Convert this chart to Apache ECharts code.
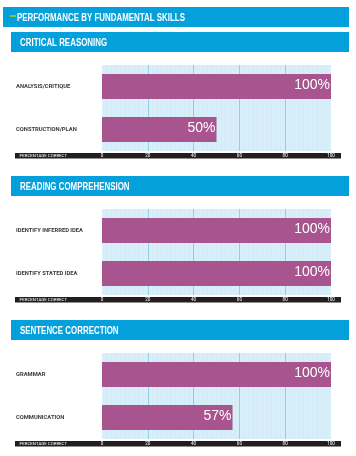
<!DOCTYPE html>
<html>
<head>
<meta charset="utf-8">
<script src="https://cdn.jsdelivr.net/npm/echarts@6/dist/echarts.min.js"></script>
<style>
html,body{margin:0;padding:0;background:#fff;}
#chart{width:356px;height:456px;}
</style>
</head>
<body>
<div id="chart"></div>
<script>
// ---- data ----
const pageTitle = 'PERFORMANCE BY FUNDAMENTAL SKILLS';
const sectionTitles = ['CRITICAL REASONING', 'READING COMPREHENSION', 'SENTENCE CORRECTION'];
const criticalCategories = ['ANALYSIS/CRITIQUE', 'CONSTRUCTION/PLAN'];
const criticalValues = [100, 50];
const readingCategories = ['IDENTIFY INFERRED IDEA', 'IDENTIFY STATED IDEA'];
const readingValues = [100, 100];
const sentenceCategories = ['GRAMMAR', 'COMMUNICATION'];
const sentenceValues = [100, 57];
const xTickValues = [0, 20, 40, 60, 80, 100];
const axisName = 'PERCENTAGE CORRECT';

// ---- layout / style ----
const HEAD_FONT = "'Liberation Sans',Arial,sans-serif";
const LABEL_FONT = "Roboto,'Liberation Sans',sans-serif";
const HEAD_BLUE = '#03a0dc';
const BAR_COLOR = '#a8548f';
const sections = [
  { cats: criticalCategories, vals: criticalValues },
  { cats: readingCategories, vals: readingValues },
  { cats: sentenceCategories, vals: sentenceValues }
];
const STEP = 144;
const PLOT_TOP = 65, PLOT_H = 86, PLOT_LEFT = 102, PLOT_RIGHT = 25;
const SUB_TOP = 32;

const chart = echarts.init(document.getElementById('chart'), null, { renderer: 'canvas' });

const grids = [], xAxes = [], yAxes = [], series = [];
const graphics = [
  { type: 'rect', shape: { x: 3, y: 7, width: 346, height: 20 }, style: { fill: HEAD_BLUE } },
  { type: 'rect', shape: { x: 10, y: 15, width: 6, height: 2 }, style: { fill: '#8cc63f' } },
  { type: 'text', x: 17, y: 17.5, scaleX: 0.72, style: { text: pageTitle, fill: '#fff', font: "bold 11px " + HEAD_FONT, textVerticalAlign: 'middle' } }
];

sections.forEach((s, i) => {
  const off = i * STEP;
  graphics.push({ type: 'rect', shape: { x: 11, y: SUB_TOP + off, width: 338, height: 20 }, style: { fill: HEAD_BLUE } });
  graphics.push({ type: 'text', x: 20, y: SUB_TOP + off + 10.5, scaleX: 0.72, style: { text: sectionTitles[i], fill: '#fff', font: "bold 11px " + HEAD_FONT, textVerticalAlign: 'middle' } });
  graphics.push({ type: 'rect', z: -1, shape: { x: 15, y: PLOT_TOP + off + PLOT_H + 2, width: 326, height: 5.5 }, style: { fill: '#231f20' } });

  grids.push({
    left: PLOT_LEFT, right: PLOT_RIGHT, top: PLOT_TOP + off, height: PLOT_H,
    show: true, backgroundColor: '#d8eff9', borderWidth: 0,
    containLabel: false, outerBoundsMode: 'none'
  });
  xAxes.push({
    type: 'value', gridIndex: i, min: xTickValues[0], max: xTickValues[xTickValues.length - 1],
    interval: xTickValues[1] - xTickValues[0], position: 'bottom', offset: 4.7,
    axisLine: { show: false }, axisTick: { show: false },
    axisLabel: { color: '#fff', fontSize: 4.6, margin: 0, verticalAlign: 'middle', fontFamily: LABEL_FONT },
    splitLine: { show: true, showMinLine: false, showMaxLine: false, lineStyle: { color: '#8ecfea', width: 1 } },
    minorTick: { show: false, splitNumber: 10 },
    minorSplitLine: { show: true, lineStyle: { color: '#cfe8f4', width: 0.6 } },
    name: axisName, nameLocation: 'start', nameGap: 35,
    nameTextStyle: { color: '#fff', fontSize: 4.4, fontFamily: LABEL_FONT, verticalAlign: 'middle' }
  });
  yAxes.push({
    type: 'category', gridIndex: i, inverse: true,
    data: s.cats.map((c, k) => ({ value: c, textStyle: { align: 'left', padding: k === 0 ? [3, 0, 0, 0] : [0, 0, 11, 0] } })),
    axisLine: { show: false }, axisTick: { show: false }, splitLine: { show: false },
    axisLabel: { align: 'left', margin: PLOT_LEFT - 16, color: '#3a3a3a', fontSize: 5.8, fontWeight: 'bold', fontFamily: LABEL_FONT }
  });
  series.push({
    type: 'bar', xAxisIndex: i, yAxisIndex: i, data: s.vals, barWidth: 25,
    itemStyle: { color: BAR_COLOR },
    label: { show: true, position: 'insideRight', distance: 1, offset: [0, -1.5], formatter: '{c}%', color: '#fff', fontSize: 14, fontFamily: HEAD_FONT },
    animation: false
  });
});

chart.setOption({
  animation: false,
  backgroundColor: '#fff',
  grid: grids, xAxis: xAxes, yAxis: yAxes, series: series,
  graphic: { elements: graphics }
});
</script>
</body>
</html>
